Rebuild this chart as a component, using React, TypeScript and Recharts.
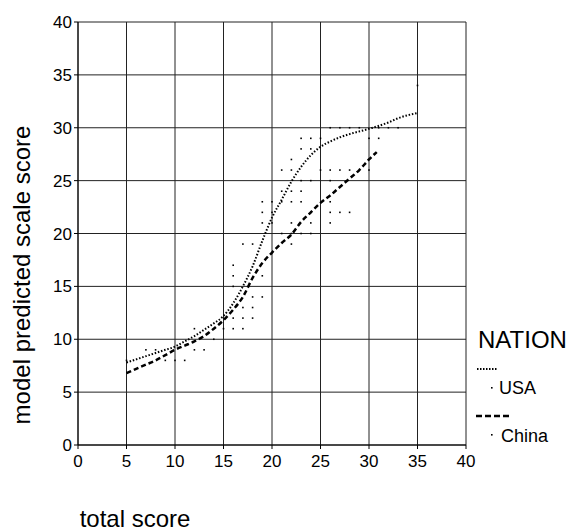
import React from "react";
import {
  ComposedChart,
  Line,
  Scatter,
  XAxis,
  YAxis,
  CartesianGrid,
  Legend,
} from "recharts";

// axis ticks (both axes run 0..40)
const axisTicks = [0, 5, 10, 15, 20, 25, 30, 35, 40];

// fitted curves
const usaFitX = [5, 6, 7, 8, 9, 10, 11, 12, 13, 14, 15, 16, 17, 18, 19, 20, 21, 22, 23, 24, 25, 26, 27, 28, 30, 32, 33, 35];
const usaFitY = [7.8, 8.1, 8.4, 8.7, 9.0, 9.3, 9.8, 10.3, 10.9, 11.5, 12.2, 13.4, 15.0, 16.9, 19.3, 21.5, 23.2, 24.9, 26.3, 27.4, 28.2, 28.7, 29.1, 29.4, 29.9, 30.5, 30.9, 31.4];

const chinaFitX = [5, 6, 7, 8, 9, 10, 11, 12, 13, 14, 15, 16, 17, 18, 19, 20, 21, 22, 23, 24, 25, 26, 27, 28, 29, 30, 30.8];
const chinaFitY = [6.8, 7.2, 7.6, 8.0, 8.5, 9.0, 9.4, 9.8, 10.3, 11.0, 11.8, 12.8, 14.0, 15.8, 17.2, 18.2, 19.1, 19.9, 21.1, 22.0, 22.9, 23.6, 24.4, 25.2, 26.0, 27.0, 27.7];

// observed scores
const usaObsX = [35, 26, 27, 28, 29, 31, 32, 33, 23, 24, 25, 30, 31, 23, 24, 22, 21, 22, 21, 22, 19, 20, 21, 19, 20, 17, 18, 16, 16, 16, 12, 15, 7, 8, 5];
const usaObsY = [34, 30, 30, 30, 30, 30, 30, 30, 29, 29, 29, 29, 29, 28, 28, 27, 26, 26, 24, 24, 23, 23, 23, 22, 22, 19, 19, 17, 16, 15, 11, 11, 9, 9, 8];

const chinaObsX = [25, 26, 27, 28, 30, 23, 24, 26, 23, 22, 23, 26, 24, 26, 27, 28, 19, 20, 22, 24, 26, 21, 22, 23, 24, 22, 19, 18, 19, 17, 18, 16, 17, 18, 16, 17, 14, 12, 13, 9, 10, 11];
const chinaObsY = [26, 26, 26, 26, 26, 25, 25, 25, 24, 23, 23, 23, 22, 22, 22, 22, 21, 21, 21, 21, 21, 20, 20, 20, 20, 19, 16, 14, 14, 13, 13, 12, 12, 12, 11, 11, 10, 9, 9, 8, 8, 8];

const toPoints = (xs: number[], ys: number[]) => xs.map((x, i) => ({ x, y: ys[i] }));

const usaFit = toPoints(usaFitX, usaFitY);
const chinaFit = toPoints(chinaFitX, chinaFitY);
const usaObs = toPoints(usaObsX, usaObsY);
const chinaObs = toPoints(chinaObsX, chinaObsY);

const FONT = "'Liberation Sans', Arial, sans-serif";

const TinyDot = (props: any) => {
  const { cx, cy } = props;
  if (cx == null || cy == null) return null;
  return <rect x={cx - 0.8} y={cy - 0.8} width={1.6} height={1.6} fill="#000" />;
};

const YTitle = () => (
  <text
    x={21}
    y={275}
    transform="rotate(-90, 21, 275)"
    textAnchor="middle"
    dominantBaseline="central"
    fontFamily={FONT}
    fontSize={24}
    fill="#000"
  >
    model predicted scale score
  </text>
);

const XTitle = () => (
  <text x={135} y={527} textAnchor="middle" fontFamily={FONT} fontSize={24} fill="#000">
    total score
  </text>
);

// legend drawn by hand so it looks like the old SPSS one
const NationLegend = () => (
  <svg width={108} height={130} style={{ display: "block" }}>
    <text x={12} y={28} fontFamily={FONT} fontSize={24} fill="#000">
      NATION
    </text>
    <line x1={11} y1={49} x2={31} y2={49} stroke="#000" strokeWidth={2} strokeDasharray="1.5 1.5" />
    <rect x={25} y={67} width={1.6} height={1.6} fill="#000" />
    <text x={33} y={74} fontFamily={FONT} fontSize={18} fill="#000">
      USA
    </text>
    <line x1={10} y1={96} x2={43} y2={96} stroke="#000" strokeWidth={2.5} strokeDasharray="6 3" />
    <rect x={25} y={114} width={1.6} height={1.6} fill="#000" />
    <text x={35} y={122} fontFamily={FONT} fontSize={18} fill="#000">
      China
    </text>
  </svg>
);

export default function App() {
  const tickStyle = { fill: "#000", fontSize: 17, fontFamily: FONT };
  return (
    <div style={{ position: "absolute", left: 0, top: 0, width: 574, height: 531, background: "#fff" }}>
      <ComposedChart
        width={574}
        height={531}
        margin={{ top: 22, right: 108, bottom: 56, left: 8 }}
      >
        <CartesianGrid stroke="#222" strokeWidth={1} horizontalValues={axisTicks} verticalValues={axisTicks} />
        <XAxis
          type="number"
          dataKey="x"
          domain={[0, 40]}
          ticks={axisTicks}
          allowDataOverflow
          height={30}
          tick={tickStyle}
          tickSize={4}
          tickMargin={6}
          stroke="#000"
          label={<XTitle />}
        />
        <YAxis
          type="number"
          dataKey="y"
          domain={[0, 40]}
          ticks={axisTicks}
          allowDataOverflow
          width={70}
          tick={tickStyle}
          tickSize={4}
          tickMargin={2}
          stroke="#000"
          label={<YTitle />}
        />
        <Scatter data={usaObs} dataKey="y" shape={<TinyDot />} isAnimationActive={false} />
        <Scatter data={chinaObs} dataKey="y" shape={<TinyDot />} isAnimationActive={false} />
        <Line
          data={usaFit}
          dataKey="y"
          type="monotone"
          stroke="#000"
          strokeWidth={2}
          strokeDasharray="1.5 1.8"
          dot={false}
          activeDot={false}
          isAnimationActive={false}
        />
        <Line
          data={chinaFit}
          dataKey="y"
          type="monotone"
          stroke="#000"
          strokeWidth={2.5}
          strokeDasharray="5 3"
          dot={false}
          activeDot={false}
          isAnimationActive={false}
        />
        <Legend
          layout="vertical"
          align="center"
          verticalAlign="middle"
          content={<NationLegend />}
          wrapperStyle={{ left: 466, top: 320, width: 108, height: 130 }}
        />
      </ComposedChart>
    </div>
  );
}
